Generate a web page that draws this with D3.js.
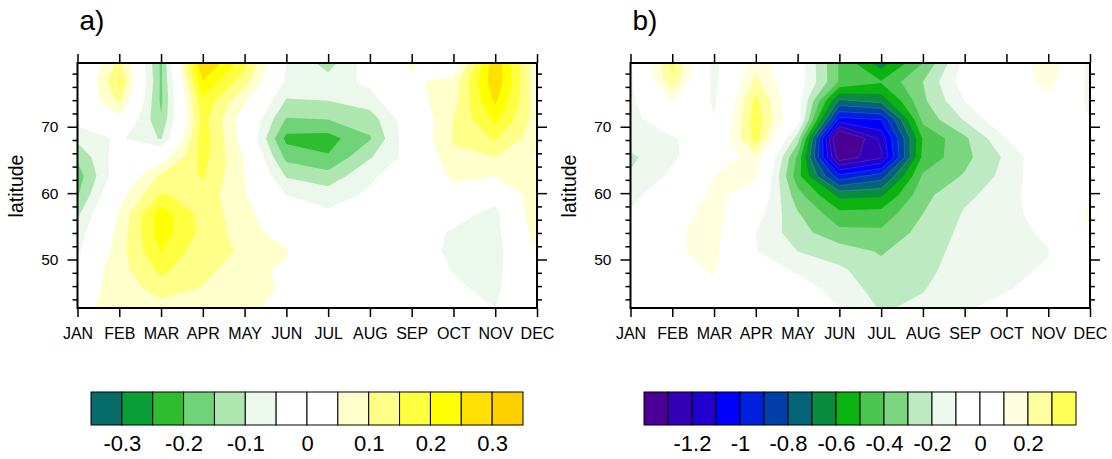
<!DOCTYPE html>
<html>
<head>
<meta charset="utf-8">
<script src="https://d3js.org/d3.v7.min.js"></script>
<style>
  html, body { margin: 0; background: #fff; }
  svg text { font-family: "Liberation Sans", Arial, sans-serif; fill: #000; }
</style>
</head>
<body>
<div id="chart"></div>
<script>
const months = ['JAN', 'FEB', 'MAR', 'APR', 'MAY', 'JUN', 'JUL', 'AUG', 'SEP', 'OCT', 'NOV', 'DEC'];
// grid rows, north to south
const lats = [79.6, 76.8, 73.9, 71.1, 68.3, 65.4, 62.6, 59.8, 56.9, 54.1, 51.3, 48.4, 45.6, 42.7];
const latMajor = [50, 60, 70];
const latMinor = [44, 46, 48, 52, 54, 56, 58, 62, 64, 66, 68, 72, 74, 76, 78];

// one inner array per month, values follow lats
const valuesA = [
  [-.06, -.04, -.02, -.03, -.086, -.14, -.175, -.155, -.11, -.08, -.06, 0, .03, .04],
  [.12, .16, .11, .03, -.04, -.02, -.01, .03, .055, .07, .08, .08, .065, .065],
  [-.16, -.16, -.16, -.145, -.105, .02, .11, .155, .23, .225, .2, .16, .125, .075],
  [.31, .245, .19, .17, .18, .17, .155, .13, .13, .135, .115, .115, .095, .08],
  [.17, .12, .055, .02, .02, .045, .05, .055, .07, .075, .095, .07, .075, .07],
  [-.05, -.06, -.105, -.155, -.215, -.165, -.105, -.05, -.01, .02, .055, .04, .04, .02],
  [-.12, -.08, -.1, -.15, -.22, -.195, -.13, -.075, -.04, -.02, -.02, -.01, 0, 0],
  [-.02, -.035, -.075, -.125, -.155, -.105, -.06, -.04, -.02, -.01, -.01, 0, 0, 0],
  [.06, .04, .03, -.01, -.005, -.025, -.01, -.01, -.01, -.03, -.03, -.02, -.01, 0],
  [0, .07, .08, .1, .105, .09, .06, .03, -.03, -.055, -.0575, -.052, -.04, -.02],
  [.29, .29, .26, .21, .155, .1, .052, -.03, -.065, -.07, -.075, -.07, -.065, -.05],
  [.055, .06, .068, .075, .07, .042, .07, .09, .095, .08, .05, .04, .04, .03]
];
const valuesB = [
  [-.115, -.12, -.125, -.13, -.15, -.22, -.19, -.13, -.09, -.06, -.04, -.02, -.01, 0],
  [.33, .27, .105, -.03, -.11, -.115, -.08, -.02, .04, .08, .085, .07, .05, .03],
  [-.14, -.135, -.12, -.095, -.05, -.02, .105, .13, .15, .145, .13, .11, .08, .05],
  [.17, .23, .33, .36, .35, .18, .12, .03, -.05, -.1, -.095, -.05, -.02, 0],
  [-.04, -.03, -.04, -.03, -.25, -.42, -.46, -.36, -.29, -.26, -.2, -.11, -.06, -.03],
  [-.41, -.41, -.72, -1.03, -1.5, -1.37, -.97, -.63, -.47, -.37, -.25, -.18, -.13, -.1],
  [-.65, -.49, -.66, -1, -1.17, -1.22, -.85, -.62, -.46, -.38, -.31, -.27, -.25, -.21],
  [-.4, -.3, -.32, -.37, -.49, -.47, -.385, -.33, -.3, -.265, -.235, -.225, -.205, -.18],
  [-.065, -.04, -.1, -.19, -.32, -.33, -.29, -.22, -.19, -.176, -.17, -.155, -.14, -.11],
  [-.03, -.02, -.02, 0, -.1, -.18, -.165, -.155, -.14, -.14, -.13, -.12, -.105, -.07],
  [.2, .15, .07, 0, .01, .01, 0, 0, -.04, -.08, -.105, -.09, -.07, -.05],
  [-.14, -.135, -.13, -.1, -.06, -.03, 0, .095, .125, .108, .08, .05, .03, 0]
];

const levelsA = [-.3, -.25, -.2, -.15, -.1, -.05, 0, .05, .1, .15, .2, .25, .3];
const levelsB = [-1.3, -1.2, -1.1, -1, -.9, -.8, -.7, -.6, -.5, -.4, -.3, -.2, -.1, 0, .1, .2, .3];
const labelsA = [-.3, -.2, -.1, 0, .1, .2, .3];
const labelsB = [-1.2, -1, -.8, -.6, -.4, -.2, 0, .2];

const colorsA = ['#076c69', '#0a9e36', '#2dbd2e', '#6fd477', '#aee6b0', '#ecf8ec', '#ffffff',
  '#ffffff', '#ffffcc', '#ffff88', '#ffff40', '#ffff00', '#ffe000', '#ffd000'];
const colorsB = ['#4b0095', '#3300b8', '#2000cc', '#0000ff', '#0020e0', '#0040a8', '#056478',
  '#0a8c40', '#0ab30f', '#4bc64f', '#7bd67f', '#bdeac0', '#eef8ee', '#ffffff', '#ffffff',
  '#ffffe0', '#ffffa0', '#ffff55'];

const svg = d3.select('#chart').append('svg')
  .attr('width', 1112)
  .attr('height', 459)
  .style('display', 'block');

function drawPanel(id, left, title, values, levels, colors, labels, barRange, barDomain) {
  const right = left + 459.5, top = 63, bottom = 308;
  const g = svg.append('g');

  const x = d3.scalePoint().domain(months).range([left, right]);
  const y = d3.scaleLinear().domain([lats[lats.length - 1], lats[0]]).range([bottom, top]);

  // contour space -> screen: grid points sit on cell centres
  const colX = d3.scaleLinear().domain([0, months.length - 1]).range([left, right]);
  const rowLat = d3.scaleLinear().domain([0, lats.length - 1]).range([lats[0], lats[lats.length - 1]]);
  const path = d3.geoPath(d3.geoTransform({
    point(cx, cy) { this.stream.point(colX(cx - 0.5), y(rowLat(cy - 0.5))); }
  }));

  g.append('clipPath').attr('id', id)
    .append('rect')
      .attr('x', left).attr('y', top)
      .attr('width', right - left).attr('height', bottom - top);

  const flat = [];
  lats.forEach((_, j) => months.forEach((_, i) => flat.push(values[i][j])));
  const contours = d3.contours().size([months.length, lats.length]).thresholds(levels)(flat);

  const plot = g.append('g').attr('clip-path', `url(#${id})`);
  plot.append('rect')
    .attr('x', left).attr('y', top)
    .attr('width', right - left).attr('height', bottom - top)
    .attr('fill', colors[0]);
  plot.selectAll('path')
    .data(contours)
    .join('path')
      .attr('d', path)
      .attr('fill', (d, i) => colors[i + 1])
      // the deep bands show thin pale seams in the original
      .attr('stroke', d => d.value <= -.7 ? 'rgba(255,255,255,.25)' : 'none')
      .attr('stroke-width', 0.5);

  // Axes
  const ax = g.append('g');
  const bottomAxis = ax.append('g')
    .attr('transform', `translate(0,${bottom})`)
    .call(d3.axisBottom(x).tickSize(9).tickPadding(11));
  bottomAxis.selectAll('text').style('font-size', '16px');
  ax.append('g')
    .attr('transform', `translate(0,${top})`)
    .call(d3.axisTop(x).tickSize(9).tickFormat(''));

  const leftAxis = ax.append('g')
    .attr('transform', `translate(${left},0)`)
    .call(d3.axisLeft(y).tickValues(latMajor).tickSize(10).tickPadding(9));
  leftAxis.selectAll('text').style('font-size', '15.5px');
  ax.append('g')
    .attr('transform', `translate(${left},0)`)
    .call(d3.axisLeft(y).tickValues(latMinor).tickSize(5).tickFormat(''));
  ax.append('g')
    .attr('transform', `translate(${right},0)`)
    .call(d3.axisRight(y).tickValues(latMajor).tickSize(10).tickFormat(''));
  ax.append('g')
    .attr('transform', `translate(${right},0)`)
    .call(d3.axisRight(y).tickValues(latMinor).tickSize(5).tickFormat(''));
  ax.selectAll('.domain').remove();
  ax.selectAll('.tick line').attr('stroke', '#000').attr('stroke-width', 1.5);

  g.append('rect')
    .attr('x', left).attr('y', top)
    .attr('width', right - left).attr('height', bottom - top)
    .attr('fill', 'none')
    .attr('stroke', '#000')
    .attr('stroke-width', 2);

  g.append('text')
    .attr('x', left + 2).attr('y', 30)
    .style('font-size', '28px')
    .text(title);

  g.append('text')
    .attr('transform', `translate(${left - 54.5},186) rotate(-90)`)
    .attr('text-anchor', 'middle')
    .style('font-size', '19.5px')
    .text('latitude');

  // Colour bar
  const barX = d3.scaleLinear().domain(barDomain).range(barRange);
  const edges = [barDomain[0], ...levels, barDomain[1]];
  g.append('g').selectAll('rect')
    .data(colors)
    .join('rect')
      .attr('x', (d, i) => barX(edges[i]))
      .attr('y', 392)
      .attr('width', (d, i) => barX(edges[i + 1]) - barX(edges[i]))
      .attr('height', 33)
      .attr('fill', d => d)
      .attr('stroke', '#000')
      .attr('stroke-width', 1);

  const barAxis = g.append('g')
    .attr('transform', 'translate(0,425)')
    .call(d3.axisBottom(barX).tickValues(labels).tickSize(0).tickPadding(10)
      .tickFormat(d => String(d)));
  barAxis.select('.domain').remove();
  barAxis.selectAll('text').style('font-size', '22px');
}

drawPanel('clip-a', 77.5, 'a)', valuesA, levelsA, colorsA, labelsA, [91, 523], [-.35, .35]);
drawPanel('clip-b', 630.5, 'b)', valuesB, levelsB, colorsB, labelsB, [644, 1076], [-1.4, .4]);
</script>
</body>
</html>
